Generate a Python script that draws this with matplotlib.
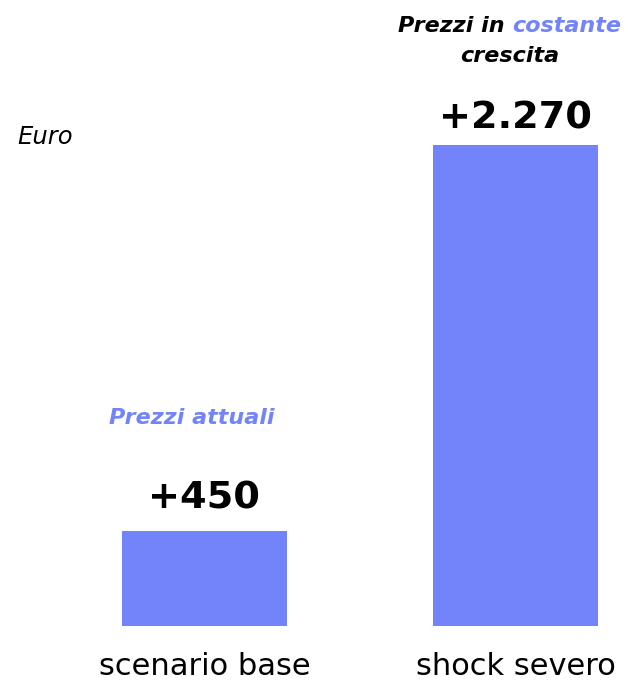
import matplotlib
matplotlib.use("Agg")
import matplotlib.pyplot as plt

categories = ["scenario base", "shock severo"]
values = [450, 2270]
value_labels = ["+450", "+2.270"]
unit_label = "Euro"

BLUE = "#7383F9"
FONT = ["DejaVu Sans"]

fig = plt.figure(figsize=(6.28, 6.8), dpi=100)
ax = fig.add_axes([0, 54/680, 1, 626/680])
x = list(range(len(categories)))
ax.bar(x, values, width=165/311, color=BLUE)
ax.set_xlim(-204.5/311, (628-204.5)/311)
ax.set_ylim(0, 626/481*2270)
for s in ax.spines.values():
    s.set_visible(False)
ax.set_yticks([])
ax.set_xticks(x)
ax.set_xticklabels(categories, fontsize=22, family=FONT)
ax.tick_params(axis="x", length=0, pad=19)

label_offsets = [15.8, 12.2]
for xi, v, lab, off in zip(x, values, value_labels, label_offsets):
    ax.annotate(lab, xy=(xi, v), xytext=(0, off), textcoords="offset points",
                ha="center", va="baseline", fontsize=27.5, fontweight="bold",
                family=FONT, color="black")

# scenario annotations
ax.annotate("Prezzi attuali", xy=(0, values[0]), xytext=(-9, 77), textcoords="offset points",
            ha="center", va="baseline", fontsize=16, fontweight="bold", style="italic",
            family=FONT, color=BLUE)

t1 = ax.annotate("Prezzi in ", xy=(1, values[1]), xytext=(-84.6, 81.4), textcoords="offset points",
                 ha="left", va="baseline", fontsize=16, fontweight="bold", style="italic",
                 family=FONT, color="black")
ax.annotate("costante", xy=(1, 0), xycoords=t1, xytext=(0, 0), textcoords="offset points",
            ha="left", va="bottom", fontsize=16, fontweight="bold", style="italic",
            family=FONT, color=BLUE)
ax.annotate("crescita", xy=(1, values[1]), xytext=(-4, 59.8), textcoords="offset points",
            ha="center", va="baseline", fontsize=16, fontweight="bold", style="italic",
            family=FONT, color="black")

fig.text(17/628, 1 - 137/680, unit_label, ha="left", va="center", fontsize=17.5,
         style="italic", family=FONT, color="black")

fig.savefig("out.png", dpi=100)
